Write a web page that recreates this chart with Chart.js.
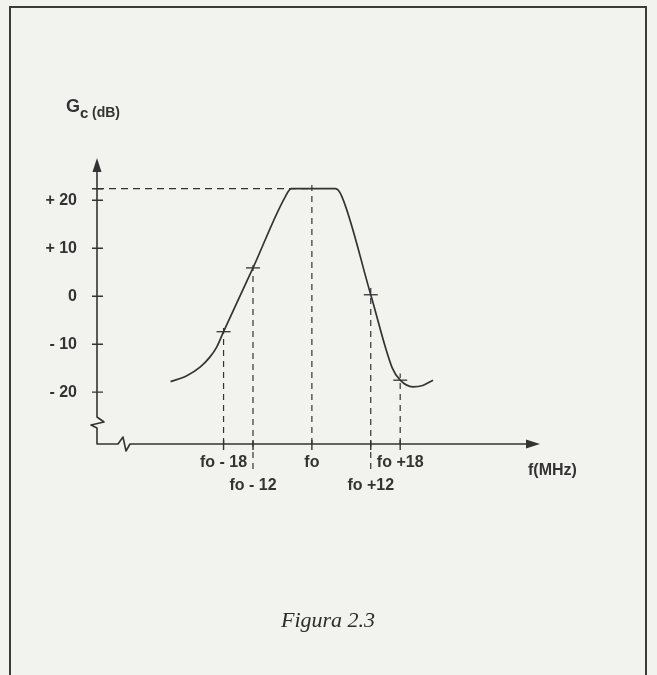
<!DOCTYPE html>
<html>
<head>
<meta charset="utf-8">
<script src="https://cdn.jsdelivr.net/npm/chart.js@4.4.1/dist/chart.umd.min.js"></script>
<style>
  html, body { margin: 0; padding: 0; background: #f2f2ee; overflow: hidden; }
  #wrap { position: relative; width: 657px; height: 675px; }
  #frame { position: absolute; left: 9px; top: 6px; width: 638px; height: 720px; border: 2px solid #3a3a3a; box-sizing: border-box; }
  canvas { position: absolute; left: 0; top: 0; }
  #caption { position: absolute; left: 9px; width: 638px; top: 607px; text-align: center;
             font: italic 22px "Liberation Serif", "Times New Roman", serif; color: #2c2c2c; }
</style>
</head>
<body>
<div id="wrap">
  <div id="frame"></div>
  <canvas id="gainChart" width="657" height="675"></canvas>
  <div id="caption">Figura 2.3</div>
</div>
<script>
// response curve (MHz from fo, dB)
const freqs = [-28.8, -25.5, -22.8, -20.8, -19.4, -18, -12, -5.6, -4.2, 0, 4.8, 6.1, 12, 16.4, 18, 20.6, 22.6, 24.7];
const gains = [-17.8, -16.6, -14.8, -12.7, -10.6, -7.4, 5.9, 20.4, 22.4, 22.4, 22.4, 20.8, 0.3, -15.0, -17.5, -18.9, -18.6, -17.5];

// marked frequencies and the gain where the guide meets the curve
const markFreqs = [-18, -12, 0, 12, 18];
const markGains = [-7.4, 5.9, 22.4, 0.3, -17.5];
const xTickLabels = ["fo - 18", ["", "fo - 12"], "fo", ["", "fo +12"], "fo +18"];

const yTicks = [-20, -10, 0, 10, 20];
const peakGain = 22.4;

const xRange = [-43.8, 46.5];
const yRange = [-30.8, 28.8];

const ink = "#333333";
const tickFont = { family: "'Liberation Sans', Arial, sans-serif", size: 16, weight: "bold", lineHeight: 1.38 };

// dashed guides from the f axis up to (a bit past) the curve
const guides = markFreqs.map((f, i) => ({
  type: "scatter",
  data: [
    { x: f, y: (i === 1 || i === 3) ? -36 : yRange[0] },
    { x: f, y: markGains[i] + 1.4 }
  ],
  showLine: true,
  borderColor: ink,
  borderWidth: 1.2,
  borderDash: [6, 5],
  pointRadius: 0,
  clip: false
}));

const axesPlugin = {
  id: "axesPlugin",
  beforeDatasetsDraw(chart) {
    const { ctx, chartArea: a, scales: { x, y } } = chart;
    const x0 = a.left, y0 = a.bottom;
    ctx.save();
    ctx.strokeStyle = ink;
    ctx.fillStyle = ink;
    ctx.lineWidth = 1.6;
    ctx.lineJoin = "round";

    // axes with the little breaks near the origin
    ctx.beginPath();
    ctx.moveTo(x0, a.top + 10);
    ctx.lineTo(x0, y0 - 27);
    ctx.lineTo(x0 + 7, y0 - 22);
    ctx.lineTo(x0 - 6, y0 - 19);
    ctx.lineTo(x0, y0 - 16);
    ctx.lineTo(x0, y0);
    ctx.lineTo(x0 + 21, y0);
    ctx.lineTo(x0 + 26, y0 - 7);
    ctx.lineTo(x0 + 29, y0 + 7);
    ctx.lineTo(x0 + 33, y0);
    ctx.lineTo(a.right - 10, y0);
    ctx.stroke();

    // arrow heads
    ctx.beginPath();
    ctx.moveTo(x0, a.top);
    ctx.lineTo(x0 - 4.5, a.top + 14);
    ctx.lineTo(x0 + 4.5, a.top + 14);
    ctx.closePath();
    ctx.fill();
    ctx.beginPath();
    ctx.moveTo(a.right, y0);
    ctx.lineTo(a.right - 14, y0 - 4.5);
    ctx.lineTo(a.right - 14, y0 + 4.5);
    ctx.closePath();
    ctx.fill();

    // tick marks
    ctx.lineWidth = 1.4;
    ctx.beginPath();
    [...yTicks, peakGain].forEach(v => {
      const py = y.getPixelForValue(v);
      ctx.moveTo(x0 - 5, py);
      ctx.lineTo(x0 + 6, py);
    });
    markFreqs.forEach(f => {
      const px = x.getPixelForValue(f);
      ctx.moveTo(px, y0 - 4);
      ctx.lineTo(px, y0 + 6);
    });
    ctx.stroke();

    // axis titles
    ctx.textBaseline = "alphabetic";
    ctx.textAlign = "left";
    ctx.font = "bold 18px 'Liberation Sans', Arial, sans-serif";
    ctx.fillText("G", x0 - 31, 112);
    ctx.font = "bold 15px 'Liberation Sans', Arial, sans-serif";
    ctx.fillText("c", x0 - 17, 118);
    ctx.font = "bold 14px 'Liberation Sans', Arial, sans-serif";
    ctx.fillText("(dB)", x0 - 5, 117);
    ctx.font = "bold 16px 'Liberation Sans', Arial, sans-serif";
    ctx.fillText("f(MHz)", a.right - 12, 475);
    ctx.restore();
  }
};

new Chart(document.getElementById("gainChart"), {
  type: "scatter",
  data: {
    datasets: [
      {
        data: freqs.map((f, i) => ({ x: f, y: gains[i] })),
        showLine: true,
        borderColor: ink,
        borderWidth: 1.7,
        pointRadius: 0,
        cubicInterpolationMode: "monotone"
      },
      ...guides,
      {
        data: [{ x: xRange[0], y: peakGain }, { x: 0, y: peakGain }],
        showLine: true,
        borderColor: ink,
        borderWidth: 1.2,
        borderDash: [7, 5],
        pointRadius: 0
      },
      {
        data: markFreqs.map((f, i) => ({ x: f, y: markGains[i] })).filter(p => p.x !== 0),
        showLine: false,
        pointStyle: "line",
        pointRadius: 7,
        borderColor: ink,
        borderWidth: 1.3
      }
    ]
  },
  options: {
    responsive: false,
    animation: false,
    devicePixelRatio: 1,
    layout: { padding: { top: 158, right: 117, bottom: 0, left: 0 } },
    plugins: { legend: { display: false }, tooltip: { enabled: false } },
    scales: {
      x: {
        type: "linear",
        min: xRange[0],
        max: xRange[1],
        grid: { display: false, drawTicks: false },
        border: { display: false },
        afterBuildTicks: s => { s.ticks = markFreqs.map(v => ({ value: v })); },
        afterFit: s => { s.height = 231; },
        ticks: {
          padding: 8,
          maxRotation: 0,
          autoSkip: false,
          color: ink,
          font: tickFont,
          callback: (v) => xTickLabels[markFreqs.indexOf(v)]
        }
      },
      y: {
        type: "linear",
        min: yRange[0],
        max: yRange[1],
        grid: { display: false, drawTicks: false },
        border: { display: false },
        afterBuildTicks: s => { s.ticks = yTicks.map(v => ({ value: v })); },
        afterFit: s => { s.width = 97; },
        ticks: {
          padding: 20,
          color: ink,
          font: tickFont,
          callback: v => v > 0 ? "+ " + v : v < 0 ? "- " + Math.abs(v) : "0"
        }
      }
    }
  },
  plugins: [axesPlugin]
});
</script>
</body>
</html>
